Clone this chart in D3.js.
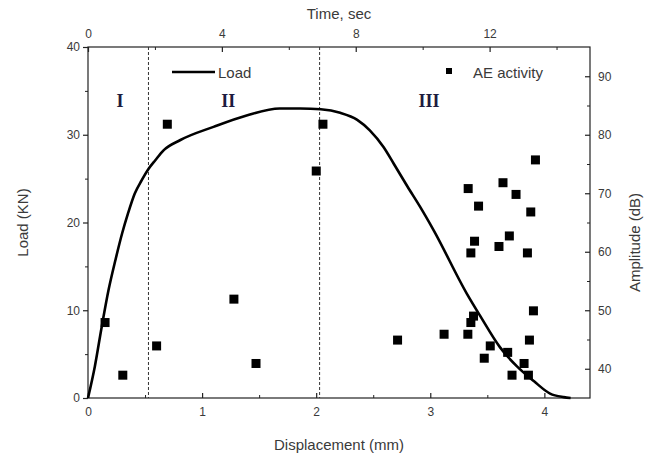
<!DOCTYPE html>
<html><head><meta charset="utf-8">
<script src="https://cdn.jsdelivr.net/npm/d3@7/dist/d3.min.js"></script>
<style>body{margin:0;background:#fff}svg{display:block}</style>
</head><body>
<svg id="c" width="647" height="456"></svg>
<script>
// Load curve: displacement (mm) vs load (kN)
const dispVals = [0, 0.06, 0.12, 0.18, 0.24, 0.30, 0.35, 0.41, 0.47, 0.53, 0.59, 0.66, 0.81, 1.10, 1.39, 1.68, 1.86, 2.04, 2.21, 2.36, 2.47, 2.59, 2.68, 2.80, 2.91, 3.03, 3.32, 3.44, 3.61, 3.76, 3.91, 4.05, 4.17, 4.23];
const loadVals = [0, 3.6, 8.1, 12.3, 15.7, 18.8, 21.0, 23.3, 24.8, 26.1, 27.1, 28.2, 29.4, 30.9, 32.2, 33.0, 33.0, 32.9, 32.5, 31.7, 30.5, 28.6, 26.7, 24.1, 21.8, 19.1, 11.9, 9.3, 5.8, 3.6, 1.9, 0.5, 0.1, 0];
// AE activity: time (s) vs amplitude (dB)
const aeTime = [0.51, 1.04, 2.05, 2.37, 4.36, 5.02, 6.82, 7.02, 9.25, 10.64, 11.35, 11.44, 11.52, 12.02, 11.84, 12.54, 12.67, 13.03, 13.16, 13.19, 13.31, 11.44, 11.55, 12.28, 12.59, 13.13, 11.36, 11.67, 12.40, 12.79, 13.23, 13.37];
const aeAmp  = [47.9, 38.9, 43.9, 81.8, 51.9, 40.9, 73.8, 81.8, 44.9, 45.9, 45.9, 47.9, 49.0, 43.9, 41.8, 42.8, 38.9, 40.9, 38.9, 44.9, 49.9, 59.8, 61.8, 60.9, 62.7, 59.8, 70.8, 67.8, 71.8, 69.8, 66.8, 75.7];
// Stage boundaries (mm) and labels
const stageLines = [0.53, 2.03];
const stageLabels = ["I", "II", "III"];
const stageLabelX = [0.28, 1.23, 2.99];
const dispTicks = [0, 1, 2, 3, 4];
const timeTicks = [0, 4, 8, 12];
const loadTicks = [0, 10, 20, 30, 40];
const ampTicks = [40, 50, 60, 70, 80, 90];

const svg = d3.select("#c");
const L = 88, R = 590, T = 47, B = 398;
const x = d3.scaleLinear().domain([0, 4.4]).range([L, R]);
const xt = d3.scaleLinear().domain([0, 15]).range([L, R]);
const y = d3.scaleLinear().domain([0, 40]).range([B, T]);
const ya = d3.scaleLinear().domain([35, 95]).range([B, T]);

const txt = "#3a3a3a";
const font = "'Liberation Sans', Arial, sans-serif";

// frame
svg.append("rect").attr("x", L).attr("y", T).attr("width", R - L).attr("height", B - T)
  .attr("fill", "none").attr("stroke", "#222").attr("stroke-width", 1.2);

function styleAxis(g) {
  g.select(".domain").remove();
  g.selectAll("line").attr("stroke", "#222").attr("stroke-width", 1.2);
  g.selectAll("text").attr("fill", txt).attr("font-family", font).attr("font-size", 12);
}
function minor(g) { g.select(".domain").remove(); g.selectAll("line").attr("stroke", "#222"); }

const gb = svg.append("g").attr("transform", `translate(0,${B})`)
  .call(d3.axisBottom(x).tickValues(dispTicks).tickSizeInner(-5).tickSizeOuter(0).tickPadding(9).tickFormat(d3.format("d")));
styleAxis(gb);
svg.append("g").attr("transform", `translate(0,${B})`)
  .call(d3.axisBottom(x).tickValues([0.5, 1.5, 2.5, 3.5]).tickSize(-3).tickFormat("")).call(minor);
const gt = svg.append("g").attr("transform", `translate(0,${T})`)
  .call(d3.axisTop(xt).tickValues(timeTicks).tickSizeInner(-5).tickSizeOuter(0).tickPadding(9).tickFormat(d3.format("d")));
styleAxis(gt);
svg.append("g").attr("transform", `translate(0,${T})`)
  .call(d3.axisTop(xt).tickValues([2, 6, 10, 14]).tickSize(-3).tickFormat("")).call(minor);
const gl = svg.append("g").attr("transform", `translate(${L},0)`)
  .call(d3.axisLeft(y).tickValues(loadTicks).tickSizeInner(5).tickSizeOuter(0).tickPadding(3));
styleAxis(gl);
svg.append("g").attr("transform", `translate(${L},0)`)
  .call(d3.axisLeft(y).tickValues([5, 15, 25, 35]).tickSize(3).tickFormat("")).call(minor);
const gr = svg.append("g").attr("transform", `translate(${R},0)`)
  .call(d3.axisRight(ya).tickValues(ampTicks).tickSizeInner(-5).tickSizeOuter(0).tickPadding(8));
styleAxis(gr);
svg.append("g").attr("transform", `translate(${R},0)`)
  .call(d3.axisRight(ya).tickValues([45, 55, 65, 75, 85]).tickSize(-3).tickFormat("")).call(minor);

// axis titles
svg.append("text").attr("x", (L + R) / 2).attr("y", 19).attr("text-anchor", "middle")
  .attr("font-family", font).attr("font-size", 15).attr("fill", txt).text("Time, sec");
svg.append("text").attr("x", (L + R) / 2).attr("y", 450).attr("text-anchor", "middle")
  .attr("font-family", font).attr("font-size", 15).attr("fill", txt).text("Displacement (mm)");
svg.append("text").attr("transform", `translate(28,${(T + B) / 2}) rotate(-90)`).attr("text-anchor", "middle")
  .attr("font-family", font).attr("font-size", 15).attr("fill", txt).text("Load (KN)");
svg.append("text").attr("transform", `translate(640,${(T + B) / 2 + 20}) rotate(-90)`).attr("text-anchor", "middle")
  .attr("font-family", font).attr("font-size", 15).attr("fill", txt).text("Amplitude (dB)");

// stage lines
svg.selectAll(".stage").data(stageLines).join("line")
  .attr("x1", d => x(d)).attr("x2", d => x(d)).attr("y1", T).attr("y2", B)
  .attr("stroke", "#333").attr("stroke-width", 1).attr("stroke-dasharray", "3,2");
svg.selectAll(".slabel").data(stageLabels).join("text")
  .attr("x", (d, i) => x(stageLabelX[i])).attr("y", 107).attr("text-anchor", "middle")
  .attr("font-family", "'Liberation Serif', 'Times New Roman', serif").attr("font-weight", "bold")
  .attr("font-size", 18).attr("fill", "#1c1c40").text(d => d);

// load curve
const lineGen = d3.line().x((d, i) => x(dispVals[i])).y((d, i) => y(loadVals[i])).curve(d3.curveMonotoneX);
svg.append("path").datum(loadVals).attr("d", lineGen).attr("fill", "none")
  .attr("stroke", "#000").attr("stroke-width", 2.6).attr("stroke-linejoin", "round");

// AE points
const s = 9;
svg.selectAll(".ae").data(aeTime).join("rect")
  .attr("x", d => xt(d) - s / 2).attr("y", (d, i) => ya(aeAmp[i]) - s / 2)
  .attr("width", s).attr("height", s).attr("fill", "#000");

// legends
svg.append("line").attr("x1", 172).attr("x2", 215).attr("y1", 72).attr("y2", 72)
  .attr("stroke", "#000").attr("stroke-width", 2.6);
svg.append("text").attr("x", 218).attr("y", 78).attr("font-family", font).attr("font-size", 15)
  .attr("fill", txt).text("Load");
svg.append("rect").attr("x", 446).attr("y", 68).attr("width", 6).attr("height", 6).attr("fill", "#000");
svg.append("text").attr("x", 473).attr("y", 78).attr("font-family", font).attr("font-size", 15)
  .attr("fill", txt).text("AE activity");
</script>
</body></html>
